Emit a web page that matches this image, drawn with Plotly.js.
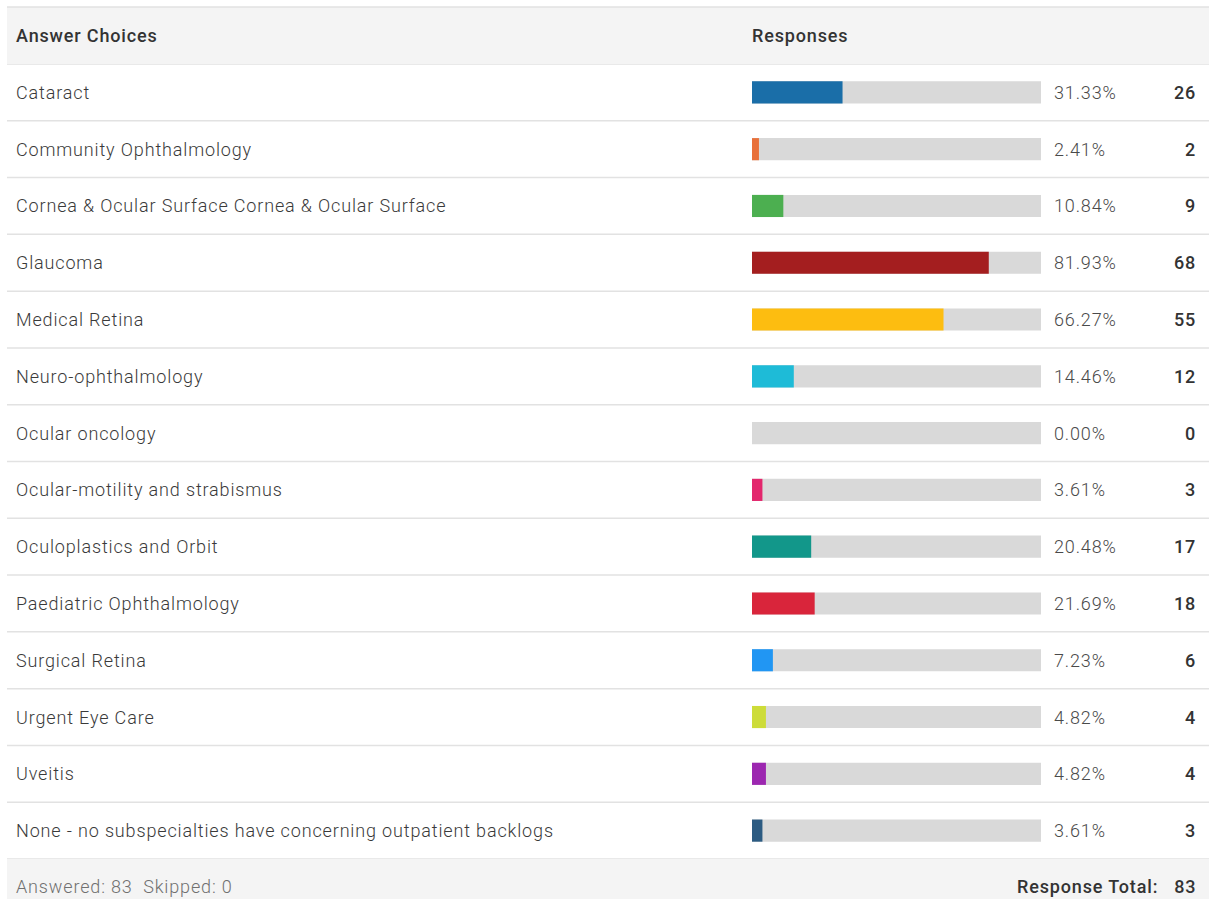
<!DOCTYPE html>
<html>
<head>
<meta charset="utf-8">
<script src="https://cdn.plot.ly/plotly-3.0.1.min.js"></script>
<style>
html,body{margin:0;padding:0;background:#fff;}
#chart{width:1209px;height:899px;}
text.annotation-text{letter-spacing:0.85px;}
</style>
</head>
<body>
<div id="chart"></div>
<script>
const categories = [
  "Cataract",
  "Community Ophthalmology",
  "Cornea & Ocular Surface Cornea & Ocular Surface",
  "Glaucoma",
  "Medical Retina",
  "Neuro-ophthalmology",
  "Ocular oncology",
  "Ocular-motility and strabismus",
  "Oculoplastics and Orbit",
  "Paediatric Ophthalmology",
  "Surgical Retina",
  "Urgent Eye Care",
  "Uveitis",
  "None - no subspecialties have concerning outpatient backlogs"
];
const percents = [31.33, 2.41, 10.84, 81.93, 66.27, 14.46, 0.00, 3.61, 20.48, 21.69, 7.23, 4.82, 4.82, 3.61];
const counts = [26, 2, 9, 68, 55, 12, 0, 3, 17, 18, 6, 4, 4, 3];
const barColors = ["#1a6ea8", "#e8703a", "#4caf50", "#a41e1f", "#fdbd10", "#1ebbd7", "#999999", "#e3276d", "#12978a", "#d9253b", "#2196f3", "#cddc39", "#9c27b0", "#2c5b82"];
const answered = 83;
const skipped = 0;
const responseTotal = 83;
const headerLabels = ["Answer Choices", "Responses"];

const W = 1209, H = 899;
const px = v => v / W;
const py = v => (H - v) / H;
const rowTop = 64, rowBottom = 859;

const FONT = "Roboto, 'Open Sans', Arial, sans-serif";
const BODY = {family: FONT, size: 18, color: "#3a3a3a", weight: 300};
const PCT = {family: FONT, size: 18, color: "#4a4a4a", weight: 300};
const STRONG = {family: FONT, size: 18, color: "#333333", weight: 500};

const traces = [
  {
    type: "bar", orientation: "h",
    y: categories, x: categories.map(() => 100),
    marker: {color: "#d9d9d9"}, width: 0.39, hoverinfo: "skip", showlegend: false
  },
  {
    type: "bar", orientation: "h",
    y: categories, x: percents,
    marker: {color: barColors}, width: 0.39, hoverinfo: "skip", showlegend: false
  }
];

const annotations = [];
categories.forEach((c, i) => {
  annotations.push({xref: "paper", yref: "y", x: px(14), y: c, text: c, showarrow: false, align: "left",
    xanchor: "left", yanchor: "middle", font: BODY});
  annotations.push({xref: "paper", yref: "y", x: px(1052), y: c, text: percents[i].toFixed(2) + "%", showarrow: false,
    align: "left", xanchor: "left", yanchor: "middle", font: PCT});
  annotations.push({xref: "paper", yref: "y", x: px(1198), y: c, text: String(counts[i]), showarrow: false,
    align: "right", xanchor: "right", yanchor: "middle", font: STRONG});
});
annotations.push({xref: "paper", yref: "paper", x: px(14), y: py(35), text: headerLabels[0], showarrow: false,
  align: "left", xanchor: "left", yanchor: "middle", font: STRONG});
annotations.push({xref: "paper", yref: "paper", x: px(750), y: py(35), text: headerLabels[1], showarrow: false,
  align: "left", xanchor: "left", yanchor: "middle", font: STRONG});
annotations.push({xref: "paper", yref: "paper", x: px(14), y: py(886),
  text: "Answered: " + answered + "&nbsp;&nbsp;Skipped: " + skipped, showarrow: false,
  align: "left", xanchor: "left", yanchor: "middle", font: {family: FONT, size: 18, color: "#707070", weight: 300}});
annotations.push({xref: "paper", yref: "paper", x: px(1198), y: py(886),
  text: "Response Total:&nbsp;&nbsp;&nbsp;" + responseTotal, showarrow: false,
  align: "right", xanchor: "right", yanchor: "middle", font: STRONG});

const shapes = [
  {type: "rect", xref: "paper", yref: "paper", x0: px(7), x1: 1, y0: py(64), y1: py(7),
    fillcolor: "#f4f4f4", line: {width: 0}, layer: "below"},
  {type: "rect", xref: "paper", yref: "paper", x0: px(7), x1: 1, y0: 0, y1: py(859),
    fillcolor: "#f4f4f4", line: {width: 0}, layer: "below"},
  {type: "line", xref: "paper", yref: "paper", x0: px(7), x1: 1, y0: py(7), y1: py(7),
    line: {color: "#e2e2e2", width: 1.5}}
];
for (let k = 0; k <= categories.length; k++) {
  shapes.push({type: "line", xref: "paper", yref: "y", x0: px(7), x1: 1, y0: k - 0.5, y1: k - 0.5,
    line: {color: "#e2e2e2", width: 1.5}});
}

const layout = {
  width: W, height: H,
  margin: {l: 0, r: 0, t: 0, b: 0},
  paper_bgcolor: "#ffffff", plot_bgcolor: "rgba(0,0,0,0)",
  barmode: "overlay",
  showlegend: false,
  xaxis: {domain: [px(752), px(1041)], range: [0, 100], visible: false, fixedrange: true},
  yaxis: {domain: [py(rowBottom), py(rowTop)], type: "category", range: [categories.length - 0.5, -0.5],
    visible: false, fixedrange: true},
  annotations: annotations,
  shapes: shapes,
  font: {family: FONT}
};

Plotly.newPlot("chart", traces, layout, {displayModeBar: false, staticPlot: true});
</script>
</body>
</html>
